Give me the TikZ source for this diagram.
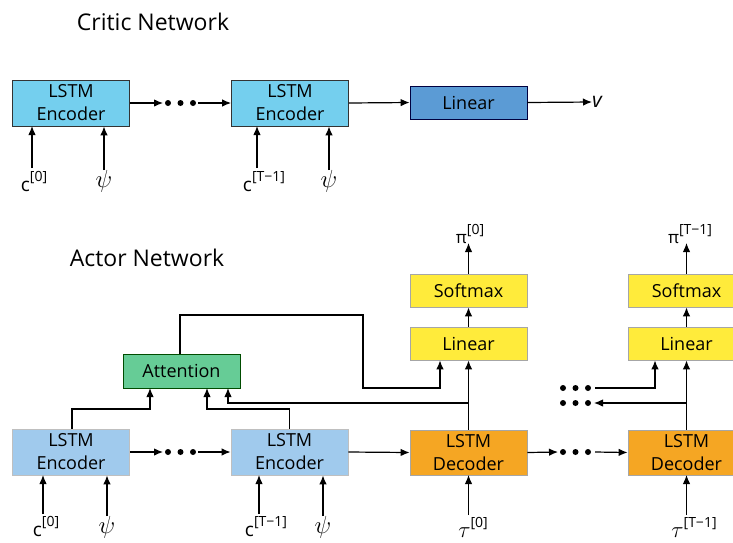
\RequirePackage{fix-cm}
\documentclass[tikz,border=0pt]{standalone}
\usepackage{fontspec}
\setmainfont{Open Sans}
\usetikzlibrary{arrows.meta}
\definecolor{encA}{RGB}{116,207,238}
\definecolor{encB}{RGB}{160,202,237}
\definecolor{linC}{RGB}{91,155,213}
\definecolor{attG}{RGB}{102,204,150}
\definecolor{ylw}{RGB}{255,235,59}
\definecolor{org}{RGB}{245,166,35}
\newcommand{\idx}[1]{\raisebox{0.55em}{\fontsize{14}{16}\selectfont #1}}
\newcommand{\bigpsi}{\scalebox{1.3}{$\psi$}}
\newcommand{\bigtau}{\scalebox{1.2}{$\tau$}}
\begin{document}
\begin{tikzpicture}[x=1pt,y=-1pt,
  every node/.style={font=\fontsize{18}{23}\selectfont, inner sep=0pt},
  blk/.style={minimum width=117pt, minimum height=33pt, align=center, line width=0.8pt},
  tall/.style={blk, minimum height=46pt},
  criticenc/.style={tall, fill=encA, draw=black!80},
  criticlin/.style={blk, fill=linC, draw=black!75!blue},
  actorenc/.style={tall, fill=encB, draw=black!25},
  attn/.style={blk, minimum height=34pt, fill=attG, draw=black!70!green},
  yel/.style={blk, fill=ylw, draw=black!35},
  decd/.style={tall, minimum height=45pt, fill=org, draw=black!35},
  inp/.style={anchor=north, font=\fontsize{19}{22}\selectfont},
  greek/.style={anchor=north, font=\fontsize{19}{22}\selectfont},
  title/.style={font=\fontsize{23}{27}\selectfont},
  arr/.style={-{Latex[length=9pt,width=7.5pt]}, line width=1.2pt},
  dot/.style={circle, fill=black, minimum size=6pt, inner sep=0pt},
]
\useasboundingbox (0,0) rectangle (733,542);
\clip (0,0) rectangle (733,542);

% ---------------- Critic network ----------------
\node[title] (ctitle) at (153,22) {Critic Network};

\node[criticenc] (ce1) at (71,103) {LSTM\\Encoder};
\node[criticenc] (ce2) at (290,103) {LSTM\\Encoder};
\node[criticlin] (cl) at (468.5,102.5) {Linear};
\node[anchor=west, font=\fontsize{21}{24}\selectfont] (v) at (592,102) {\textit{v}};

\node[dot] (cd1) at (168,103) {};
\node[dot] (cd2) at (180.5,103) {};
\node[dot] (cd3) at (193,103) {};
\coordinate (cdin) at (163,103);
\coordinate (cdout) at (198,103);
\draw[arr] (ce1.east) -- (cdin);
\draw[arr] (cdout) -- (ce2.west);
\draw[arr] (ce2.east) -- (cl.west);
\draw[arr] (cl.east) -- (v.west);

\node[inp] (cc0) at (34,171) {c\idx{[0]}};
\node[greek] (cp0) at (104,170) {\bigpsi};
\node[inp] (cc1) at (264,171) {c\idx{[T−1]}};
\node[greek] (cp1) at (329,170) {\bigpsi};
\draw[arr] (32,168) -- (32,126);
\draw[arr] (cp0.north) -- (cp0.north |- ce1.south);
\draw[arr] (257,168) -- (257,126);
\draw[arr] (cp1.north) -- (cp1.north |- ce2.south);

% ---------------- Actor network ----------------
\node[title] (atitle) at (147,258) {Actor Network};

\node[actorenc] (ae1) at (71,452) {LSTM\\Encoder};
\node[actorenc] (ae2) at (289.5,452) {LSTM\\Encoder};
\node[decd] (d1) at (468.5,452.5) {LSTM\\Decoder};
\node[decd] (d2) at (686.5,452.5) {LSTM\\Decoder};
\node[attn] (att) at (181.5,371) {Attention};
\node[yel] (l1) at (468.5,343.5) {Linear};
\node[yel] (s1) at (468.5,290.5) {Softmax};
\node[yel] (l2) at (686.5,343.5) {Linear};
\node[yel] (s2) at (686.5,290.5) {Softmax};

\node[anchor=south, font=\fontsize{17}{20}\selectfont] (p0) at (470,244) {π\idx{[0]}};
\node[anchor=south, font=\fontsize{17}{20}\selectfont] (p1) at (690,244) {π\idx{[T−1]}};
\draw[arr] (s1.north) -- (468.5,243);
\draw[arr] (s2.north) -- (686.5,243);
\draw[arr] (l1.north) -- (s1.south);
\draw[arr] (l2.north) -- (s2.south);
\draw[arr] (d1.north) -- (l1.south);
\draw[arr] (d2.north) -- (l2.south);

% encoder chain
\node[dot] (ad1) at (168,452) {};
\node[dot] (ad2) at (180.5,452) {};
\node[dot] (ad3) at (193,452) {};
\coordinate (adin) at (163,452);
\coordinate (adout) at (198,452);
\draw[arr] (ae1.east) -- (adin);
\draw[arr] (adout) -- (ae2.west);
\draw[arr] (ae2.east) -- (d1.west);

% decoder chain
\node[dot] (dd1) at (563,452) {};
\node[dot] (dd2) at (575.5,452) {};
\node[dot] (dd3) at (588,452) {};
\coordinate (ddin) at (558,452);
\coordinate (ddout) at (595,452);
\draw[arr] (d1.east) -- (ddin);
\draw[arr] (ddout) -- (d2.west);

% encoders into attention
\draw[arr] (ae1.north -| 72,0) |- (150,409) -- (150,388);
\draw[arr] (ae2.north) |- (207,409) -- (207,388);

% decoder state back to attention
\draw[arr] (468.5,403) -- (228,403) -- (228,388);

% attention context into the first linear layer
\draw[arr] (att.north -| 180,0) -- (180,315) -- (363,315) -- (363,388) -- (440,388) -- (l1.south -| 440,0);

% loose ends beside the last decoder
\node[dot] (ud1) at (563,388) {};
\node[dot] (ud2) at (575.5,388) {};
\node[dot] (ud3) at (588,388) {};
\node[dot] (ld1) at (563,403) {};
\node[dot] (ld2) at (575.5,403) {};
\node[dot] (ld3) at (588,403) {};
\coordinate (uout) at (595,388);
\coordinate (lin) at (594,403);
\draw[arr] (uout) -- (655,388) -- (l2.south -| 655,0);
\draw[arr] (686.5,403) -- (lin);

% actor inputs
\node[inp] (ac0) at (46,516) {c\idx{[0]}};
\node[greek] (ap0) at (107,516) {\bigpsi};
\node[inp] (ac1) at (266,516) {c\idx{[T−1]}};
\node[greek] (ap1) at (323,516) {\bigpsi};
\node[inp] (t0) at (473,517) {\bigtau\idx{[0]}};
\node[inp] (t1) at (694,517) {\bigtau\idx{[T−1]}};
\draw[arr] (43,514) -- (43,475);
\draw[arr] (ap0.north) -- (ap0.north |- ae1.south);
\draw[arr] (259,514) -- (259,475);
\draw[arr] (ap1.north) -- (ap1.north |- ae2.south);
\draw[arr] (468.5,515) -- (468.5,475);
\draw[arr] (686.5,515) -- (686.5,475);
\end{tikzpicture}
\end{document}
